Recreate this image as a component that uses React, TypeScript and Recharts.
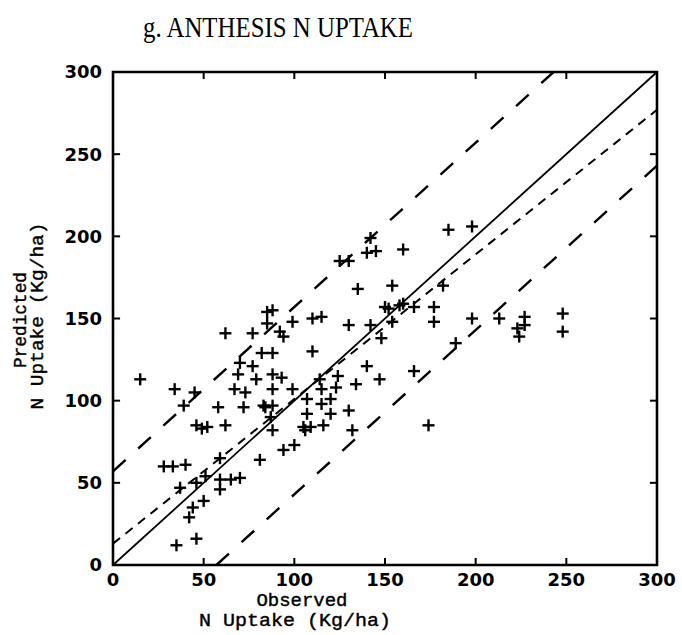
import React from 'react';
import { ScatterChart, Scatter, XAxis, YAxis, ReferenceArea, ReferenceLine } from 'recharts';

// axis ticks (both axes run 0..300 kg/ha)
const axisTicks = [0, 50, 100, 150, 200, 250, 300];

// observed vs predicted N uptake at anthesis (kg/ha)
const observed = [
  15, 34, 45, 39, 58, 72, 83, 62, 77, 46, 49, 52, 62, 82, 77, 70, 69, 67, 73, 79,
  85, 85, 28, 33, 40, 37, 46, 51, 59, 81, 59, 59, 65, 70, 50, 44, 42, 35, 46, 88,
  92, 94, 99, 110, 115, 130, 142, 154, 152, 158, 148, 110, 88, 88, 93, 88, 99, 84, 88, 87,
  88, 107, 107, 105, 109, 115, 115, 120, 124, 123, 120, 116, 130, 134, 140, 147, 132, 114, 125, 130,
  140, 145, 142, 160, 135, 154, 150, 160, 185, 198, 182, 166, 177, 177, 198, 213, 227, 227, 223, 224,
  248, 248, 189, 166, 174, 94, 100, 106,
];
const predicted = [
  113, 107, 105, 97, 96, 96, 97, 141, 141, 85, 83, 84, 85, 129, 121, 123, 116, 107, 105, 113,
  154, 147, 60, 60, 61, 47, 50, 54, 65, 64, 52, 46, 52, 53, 39, 35, 29, 12, 16, 155,
  142, 139, 148, 150, 151, 146, 146, 148, 156, 158, 138, 130, 129, 116, 114, 107, 107, 96, 97, 90,
  82, 101, 92, 84, 84, 107, 98, 101, 115, 108, 92, 85, 94, 110, 121, 113, 82, 113, 185, 185,
  190, 191, 199, 192, 168, 170, 157, 159, 204, 206, 170, 157, 157, 148, 150, 150, 151, 146, 144, 139,
  153, 142, 135, 118, 85, 70, 73, 82,
];

// 1:1 line, fitted regression and +/- bounds
const oneToOne = [{ x: 0, y: 0 }, { x: 300, y: 300 }];
const regression = [{ x: 0, y: 13 }, { x: 300, y: 277 }];
const upperBound = [{ x: 0, y: 57 }, { x: 243, y: 300 }];
const lowerBound = [{ x: 57, y: 0 }, { x: 300, y: 243 }];

const points = observed.map((x, i) => ({ x, y: predicted[i] }));

const PlusMark = (props: any) => {
  const { cx, cy } = props;
  const h = 6;
  return (
    <g stroke="#000" strokeWidth={2.4}>
      <line x1={cx - h} y1={cy} x2={cx + h} y2={cy} />
      <line x1={cx} y1={cy - h} x2={cx} y2={cy + h} />
    </g>
  );
};

const NoMark = () => <g />;

const tickFont = { fontFamily: 'DejaVu Sans', fontWeight: 'bold' as const, fontSize: 18, fill: '#000' };
const labelFont = { fontFamily: 'Liberation Mono', fontSize: 19, fill: '#000', stroke: '#000', strokeWidth: 0.4 };

// inward tick marks on all four sides of the frame
const innerTicks = axisTicks.slice(1, -1);
const tickLenX = 3.9;
const tickLenY = 4.3;

export default function App() {
  return (
    <div style={{ position: 'absolute', left: 0, top: 0, width: 682, height: 635, background: '#fff' }}>
      <ScatterChart width={682} height={635} margin={{ top: 72, right: 25, bottom: 0, left: 0 }}>
        <XAxis
          type="number"
          dataKey="x"
          domain={[0, 300]}
          ticks={axisTicks}
          axisLine={false}
          tickLine={false}
          tickSize={0}
          tickMargin={8}
          height={70}
          tick={tickFont}
        />
        <YAxis
          type="number"
          dataKey="y"
          domain={[0, 300]}
          ticks={axisTicks}
          axisLine={false}
          tickLine={false}
          tickSize={0}
          tickMargin={11}
          width={113}
          tick={tickFont}
        />
        <ReferenceArea x1={0} x2={300} y1={0} y2={300} fill="none" stroke="#000" strokeWidth={2.6} />
        {innerTicks.map((t) => (
          <ReferenceLine key={`b${t}`} segment={[{ x: t, y: 0 }, { x: t, y: tickLenY }]} stroke="#000" strokeWidth={2} />
        ))}
        {innerTicks.map((t) => (
          <ReferenceLine key={`t${t}`} segment={[{ x: t, y: 300 }, { x: t, y: 300 - tickLenY }]} stroke="#000" strokeWidth={2} />
        ))}
        {innerTicks.map((t) => (
          <ReferenceLine key={`l${t}`} segment={[{ x: 0, y: t }, { x: tickLenX, y: t }]} stroke="#000" strokeWidth={2} />
        ))}
        {innerTicks.map((t) => (
          <ReferenceLine key={`r${t}`} segment={[{ x: 300, y: t }, { x: 300 - tickLenX, y: t }]} stroke="#000" strokeWidth={2} />
        ))}
        <Scatter data={oneToOne} fill="#000" shape={NoMark} line={{ stroke: '#000', strokeWidth: 1.8 }} isAnimationActive={false} />
        <Scatter data={regression} fill="#000" shape={NoMark} line={{ stroke: '#000', strokeWidth: 2, strokeDasharray: '9 7' }} isAnimationActive={false} />
        <Scatter data={upperBound} fill="#000" shape={NoMark} line={{ stroke: '#000', strokeWidth: 2.4, strokeDasharray: '17 17' }} isAnimationActive={false} />
        <Scatter data={lowerBound} fill="#000" shape={NoMark} line={{ stroke: '#000', strokeWidth: 2.4, strokeDasharray: '17 17' }} isAnimationActive={false} />
        <Scatter data={points} fill="#000" shape={PlusMark} isAnimationActive={false} />
      </ScatterChart>
      <svg width={682} height={635} style={{ position: 'absolute', left: 0, top: 0, pointerEvents: 'none' }}>
        <text x={278} y={37} textAnchor="middle" fontFamily="Liberation Serif" fontSize={29} textLength={270} lengthAdjust="spacingAndGlyphs">
          g. ANTHESIS N UPTAKE
        </text>
        <text x={302} y={606} textAnchor="middle" {...labelFont} textLength={91} lengthAdjust="spacingAndGlyphs">
          Observed
        </text>
        <text x={295} y={626} textAnchor="middle" {...labelFont} textLength={192} lengthAdjust="spacingAndGlyphs">
          N Uptake (Kg/ha)
        </text>
        <text transform="translate(26,320) rotate(-90)" textAnchor="middle" {...labelFont} textLength={96} lengthAdjust="spacingAndGlyphs">
          Predicted
        </text>
        <text transform="translate(43,316) rotate(-90)" textAnchor="middle" {...labelFont} textLength={187} lengthAdjust="spacingAndGlyphs">
          N Uptake (Kg/ha)
        </text>
      </svg>
    </div>
  );
}
